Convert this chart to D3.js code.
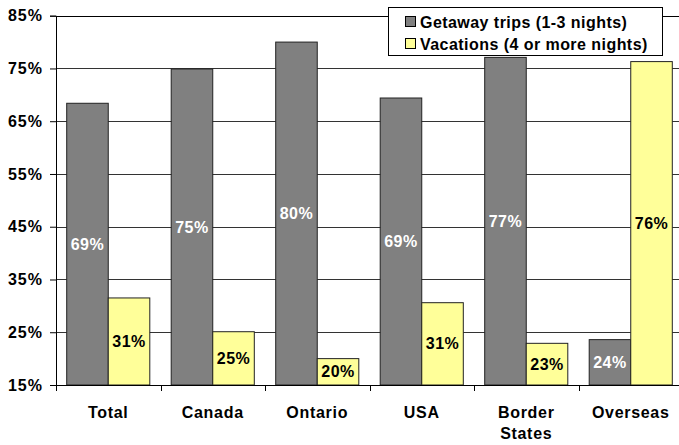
<!DOCTYPE html>
<html>
<head>
<meta charset="utf-8">
<script src="https://cdn.jsdelivr.net/npm/d3@7"></script>
<style>
  body { margin: 0; background: #fff; }
  svg { display: block; font-family: "Liberation Sans", Arial, sans-serif; }
</style>
</head>
<body>
<script>
// Chart data
var categories = ["Total", "Canada", "Ontario", "USA", "Border States", "Overseas"];
var getaway = [68.4, 74.9, 80.0, 69.4, 77.1, 23.6];
var vacations = [31.5, 25.1, 20.0, 30.6, 22.9, 76.3];
var getawayLabels = ["69%", "75%", "80%", "69%", "77%", "24%"];
var vacationLabels = ["31%", "25%", "20%", "31%", "23%", "76%"];
var seriesNames = ["Getaway trips (1-3 nights)", "Vacations (4 or more nights)"];
var yTicks = [15, 25, 35, 45, 55, 65, 75, 85];

var width = 679, height = 445;
var margin = {top: 15.7, left: 56};
var plotW = 627, base = 385;

var svg = d3.select("body").append("svg")
    .attr("width", width)
    .attr("height", height);

var x = d3.scaleBand()
    .domain(categories)
    .range([margin.left, margin.left + plotW]);

var y = d3.scaleLinear()
    .domain([15, 85])
    .range([base, margin.top]);

// Gridlines
svg.append("g")
    .selectAll("line")
    .data(yTicks)
    .enter().append("line")
    .attr("x1", margin.left)
    .attr("x2", margin.left + plotW)
    .attr("y1", d => Math.round(y(d)) + 0.5)
    .attr("y2", d => Math.round(y(d)) + 0.5)
    .attr("stroke", d => d === 85 ? "#000" : "#333")
    .attr("stroke-width", 1);

// Bars
var pad = 10.7, barW = (x.bandwidth() - 2 * pad) / 2;
var groups = svg.append("g")
    .selectAll("g")
    .data(categories)
    .enter().append("g");

groups.append("rect")
    .attr("x", d => x(d) + pad)
    .attr("y", (d, i) => y(getaway[i]))
    .attr("width", barW)
    .attr("height", (d, i) => base - y(getaway[i]))
    .attr("fill", "#808080")
    .attr("stroke", "#222")
    .attr("stroke-width", 1);

groups.append("rect")
    .attr("x", d => x(d) + pad + barW)
    .attr("y", (d, i) => y(vacations[i]))
    .attr("width", barW)
    .attr("height", (d, i) => base - y(vacations[i]))
    .attr("fill", "#FFFF99")
    .attr("stroke", "#222")
    .attr("stroke-width", 1);

// Value labels
groups.append("text")
    .attr("x", d => x(d) + pad + barW / 2)
    .attr("y", (d, i) => (y(getaway[i]) + base) / 2)
    .attr("dy", "0.35em")
    .attr("text-anchor", "middle")
    .attr("fill", "#fff")
    .style("font-size", "16px")
    .style("letter-spacing", "0.5px")
    .style("font-weight", "bold")
    .text((d, i) => getawayLabels[i]);

groups.append("text")
    .attr("x", d => x(d) + pad + barW * 1.5)
    .attr("y", (d, i) => (y(vacations[i]) + base) / 2)
    .attr("dy", "0.35em")
    .attr("text-anchor", "middle")
    .attr("fill", "#000")
    .style("font-size", "16px")
    .style("letter-spacing", "0.5px")
    .style("font-weight", "bold")
    .text((d, i) => vacationLabels[i]);

// Y axis
var yAxis = svg.append("g")
    .attr("transform", "translate(" + margin.left + ",0)")
    .call(d3.axisLeft(y).tickValues(yTicks).tickSize(6).tickPadding(7).tickFormat(d => d + "%"));
yAxis.selectAll("text")
    .style("font-size", "16px")
    .style("letter-spacing", "1px")
    .style("font-weight", "bold")
    .style("font-family", "'Liberation Sans', Arial, sans-serif")
    .attr("fill", "#000");
yAxis.selectAll("line").attr("stroke", "#000");
yAxis.select(".domain").attr("stroke", "#000");

// X axis
var xAxis = svg.append("g")
    .attr("transform", "translate(0," + base + ")");
xAxis.append("line")
    .attr("x1", margin.left).attr("x2", margin.left + plotW)
    .attr("y1", 0.5).attr("y2", 0.5)
    .attr("stroke", "#000");
xAxis.selectAll(".tick")
    .data(categories)
    .enter().append("line")
    .attr("x1", d => Math.round(x(d)) + 0.5)
    .attr("x2", d => Math.round(x(d)) + 0.5)
    .attr("y1", 0).attr("y2", 6)
    .attr("stroke", "#000");

xAxis.selectAll(".cat")
    .data(categories)
    .enter().append("text")
    .attr("y", 33)
    .attr("text-anchor", "middle")
    .style("font-size", "16px")
    .style("letter-spacing", "0.7px")
    .style("font-weight", "bold")
    .each(function(d) {
        var words = d === "Border States" ? ["Border", "States"] : [d];
        var t = d3.select(this);
        words.forEach((w, k) => {
            t.append("tspan")
                .attr("x", x(d) + x.bandwidth() / 2)
                .attr("dy", k === 0 ? 0 : 21)
                .text(w);
        });
    });

// Legend
var legend = svg.append("g").attr("transform", "translate(388,7)");
legend.append("rect")
    .attr("x", 0.5).attr("y", 0.5)
    .attr("width", 274).attr("height", 48)
    .attr("fill", "#fff")
    .attr("stroke", "#000");
var colors = ["#808080", "#FFFF99"];
seriesNames.forEach((name, i) => {
    legend.append("rect")
        .attr("x", 17.5).attr("y", 9.5 + i * 22)
        .attr("width", 10).attr("height", 10)
        .attr("fill", colors[i])
        .attr("stroke", "#000");
    legend.append("text")
        .attr("x", 32)
        .attr("y", 15 + i * 22)
        .attr("dy", "0.35em")
        .style("font-size", "16px")
        .style("letter-spacing", "0.45px")
        .style("font-weight", "bold")
        .text(name);
});
</script>
</body>
</html>
